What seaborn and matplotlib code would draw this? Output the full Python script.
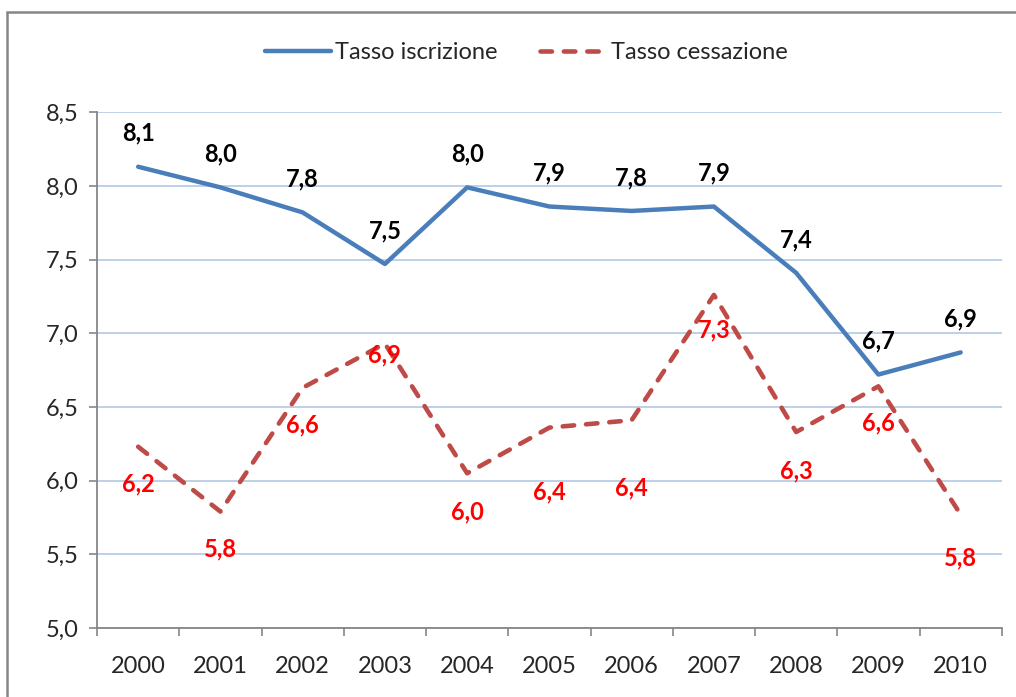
import numpy as np
import pandas as pd
import seaborn as sns
import matplotlib
matplotlib.use("Agg")
import matplotlib.pyplot as plt
from matplotlib.ticker import FuncFormatter, FixedLocator
from matplotlib.patches import Rectangle

years = ["2000", "2001", "2002", "2003", "2004", "2005", "2006", "2007", "2008", "2009", "2010"]
iscrizione = [8.13, 7.99, 7.82, 7.47, 7.99, 7.86, 7.83, 7.86, 7.41, 6.72, 6.87]
cessazione = [6.23, 5.79, 6.63, 6.93, 6.05, 6.36, 6.41, 7.26, 6.33, 6.64, 5.77]
lab_iscr = ["8,1", "8,0", "7,8", "7,5", "8,0", "7,9", "7,8", "7,9", "7,4", "6,7", "6,9"]
lab_cess = ["6,2", "5,8", "6,6", "6,9", "6,0", "6,4", "6,4", "7,3", "6,3", "6,6", "5,8"]

# label offsets in points (below the red points, tuned to the reference)
off_cess = [-27, -27, -27, -8, -28, -46, -49, -25, -28, -26, -31]

sns.set_style("white")
plt.rcParams["font.family"] = ["Lato", "DejaVu Sans"]
fs = 17

df = pd.DataFrame({"anno": years, "Tasso iscrizione": iscrizione, "Tasso cessazione": cessazione})
x = np.arange(len(years))
df["x"] = x

fig = plt.figure(figsize=(10.16, 6.97), dpi=100)
ax = fig.add_axes([0.0955, 0.099, 0.8905, 0.740])

blue = "#4A7EBB"
red = "#BE4B48"
sns.lineplot(data=df, x="x", y="Tasso iscrizione", ax=ax, color=blue, lw=3.2,
             label="Tasso iscrizione", solid_capstyle="round")
sns.lineplot(data=df, x="x", y="Tasso cessazione", ax=ax, color=red, lw=3.3,
             label="Tasso cessazione", dashes=False)
ax.lines[1].set_dashes([2.5, 2.6])
ax.lines[1].set_dash_capstyle("round")

for xi, v, t in zip(x, iscrizione, lab_iscr):
    ax.annotate(t, (xi, v), xytext=(0, 24), textcoords="offset points",
                ha="center", va="center", fontsize=fs, fontweight="bold", color="black")
for xi, v, t, o in zip(x, cessazione, lab_cess, off_cess):
    ax.annotate(t, (xi, v), xytext=(0, o), textcoords="offset points",
                ha="center", va="center", fontsize=fs, fontweight="bold", color="#FF0000")

ax.set_xlim(-0.5, 10.5)
ax.set_ylim(5.0, 8.5)
ax.set_yticks(np.arange(5.0, 8.51, 0.5))
ax.yaxis.set_major_formatter(FuncFormatter(lambda v, p: f"{v:.1f}".replace(".", ",")))
ax.xaxis.set_major_locator(FixedLocator(np.arange(-0.5, 10.6, 1)))
ax.xaxis.set_minor_locator(FixedLocator(x))
ax.set_xticklabels([], minor=False)
ax.set_xticklabels(years, minor=True)
ax.tick_params(axis="x", which="major", length=6, width=1.2, color="#868686", direction="out", bottom=True)
ax.tick_params(axis="x", which="minor", length=0, pad=20, labelsize=fs)
ax.tick_params(axis="y", length=6, width=1.2, color="#868686", direction="out", left=True, labelsize=fs, pad=7)

ax.grid(axis="y", color="#B9CDE5", lw=1.3)
ax.set_axisbelow(True)
for s in ["top", "right"]:
    ax.spines[s].set_visible(False)
for s in ["left", "bottom"]:
    ax.spines[s].set_color("#868686")
    ax.spines[s].set_linewidth(1.3)
ax.set_xlabel("")
ax.set_ylabel("")

ax.legend(loc="center", bbox_to_anchor=(0.518, 0.924), bbox_transform=fig.transFigure,
          ncol=2, frameon=False, fontsize=fs, handlelength=2.8, handletextpad=0.2,
          columnspacing=1.8)

fig.patches.append(Rectangle((7 / 1016, -0.05), 1.1, (697 - 12) / 697 + 0.05, transform=fig.transFigure,
                             fill=False, edgecolor="#868686", lw=1.8, zorder=-1))

fig.savefig("out.png", dpi=100)
